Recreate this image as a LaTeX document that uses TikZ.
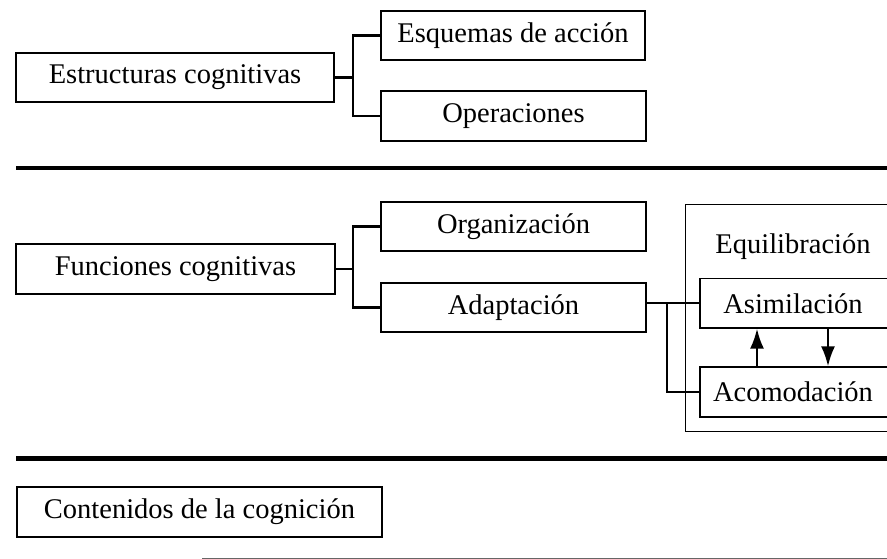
\documentclass[tikz,border=0pt]{standalone}
\usepackage{fontspec}
\setmainfont{Liberation Serif}
\usetikzlibrary{arrows.meta}
\begin{document}
\begin{tikzpicture}[x=1pt,y=-1pt,
  box/.style={draw, line width=1.4pt, minimum height=49pt, inner sep=0pt, font=\fontsize{28.5}{32}\selectfont},
  outerbox/.style={draw, line width=1pt, inner sep=0pt},
  txt/.style={inner sep=0pt, font=\fontsize{28.5}{32}\selectfont},
  conn/.style={line width=2.4pt},
  sepline/.style={line width=4.5pt},
  arr/.style={line width=2.2pt, -{Latex[length=20pt,width=14pt]}}]
\useasboundingbox (0,0) rectangle (887,559);
\clip (0,0) rectangle (887,559);
% section 1
\node[box, minimum width=318pt] (estr) at (175,77.5) {Estructuras cognitivas};
\node[box, minimum width=264pt] (esq) at (513,35.5) {Esquemas de acción};
\node[box, minimum width=265pt, minimum height=50pt] (oper) at (513.5,116) {Operaciones};
\coordinate (b1) at (353,77.5);
\draw[conn] (estr.east) -- (b1);
\draw[conn] (esq.west) -| (b1) |- (oper.west);
% separator 1
\coordinate (s1l) at (16,168);
\coordinate (s1r) at (895,168);
\draw[sepline] (s1l) -- (s1r);
% section 2
\node[box, minimum width=319pt, minimum height=50pt] (func) at (175.5,269) {Funciones cognitivas};
\node[box, minimum width=265pt] (org) at (513.5,226.5) {Organización};
\node[box, minimum width=265pt] (adap) at (513.5,307.5) {Adaptación};
\coordinate (b2) at (353,269);
\draw[conn] (func.east) -- (b2);
\draw[conn] (org.west) -| (b2) |- (adap.west);
\node[outerbox, minimum width=230pt, minimum height=226pt] (equil) at (800,318) {};
\node[txt] (eqtxt) at (793,247) {Equilibración};
\node[box, minimum width=200pt, minimum height=49.5pt] (asim) at (800,303.25) {Asimilación\hspace*{14pt}};
\node[box, minimum width=200pt, minimum height=50pt] (acom) at (800,392) {Acomodación\hspace*{14pt}};
\coordinate (b3) at (667,303.25);
\draw[conn] (adap.east |- asim.west) -- (asim.west);
\draw[conn] (b3) |- (acom.west);
\draw[arr] ([xshift=-43pt]acom.north) -- ([xshift=-43pt]asim.south);
\draw[arr] ([xshift=28pt]asim.south) -- ([xshift=28pt]acom.north);
% separator 2
\coordinate (s2l) at (16,458.5);
\coordinate (s2r) at (895,458.5);
\draw[sepline] (s2l) -- (s2r);
% section 3
\node[box, minimum width=365pt, minimum height=50pt] (cont) at (199.5,512) {Contenidos de la cognición};
\coordinate (s3l) at (202,558);
\coordinate (s3r) at (895,558);
\draw[line width=1pt, black!60] (s3l) -- (s3r);
\end{tikzpicture}
\end{document}
